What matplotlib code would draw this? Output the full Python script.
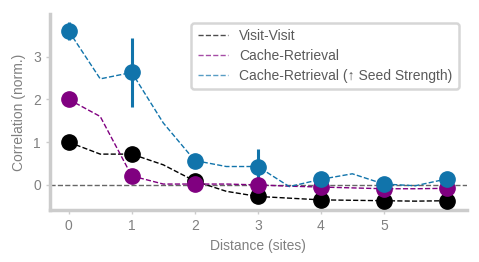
import matplotlib.pyplot as plt
import numpy as np

plt.rcParams['font.family'] = ['Liberation Sans', 'DejaVu Sans']

# line samples at half-site steps, markers at whole sites
x_line = [0, 0.5, 1, 1.5, 2, 2.5, 3, 3.5, 4, 4.5, 5, 5.5, 6]
x_pts = [0, 1, 2, 3, 4, 5, 6]

visit_line = [1.0, 0.72, 0.72, 0.47, 0.09, -0.15, -0.27, -0.31, -0.35, -0.36, -0.37, -0.38, -0.37]
visit_pts = [1.0, 0.72, 0.09, -0.27, -0.35, -0.37, -0.37]
visit_err = [0.05, 0.05, 0.04, 0.05, 0.04, 0.03, 0.03]

cache_line = [2.0, 1.6, 0.21, 0.02, 0.02, 0.02, 0.0, -0.03, -0.05, -0.07, -0.09, -0.09, -0.08]
cache_pts = [2.0, 0.21, 0.02, 0.0, -0.05, -0.09, -0.08]
cache_err = [0.15, 0.08, 0.05, 0.05, 0.04, 0.04, 0.04]

seed_line = [3.6, 2.48, 2.63, 1.45, 0.57, 0.43, 0.43, -0.04, 0.13, 0.26, 0.02, -0.02, 0.14]
seed_pts = [3.6, 2.63, 0.57, 0.43, 0.13, 0.02, 0.14]
seed_err = [0.2, 0.8, 0.15, 0.4, 0.08, 0.06, 0.12]

series = [
    ('Visit-Visit', visit_line, visit_pts, visit_err, 'black'),
    ('Cache-Retrieval', cache_line, cache_pts, cache_err, '#800080'),
    ('Cache-Retrieval (\u2191 Seed Strength)', seed_line, seed_pts, seed_err, '#1174ab'),
]

fig = plt.figure(figsize=(4.79, 2.62), dpi=100)
ax = fig.add_axes([0.104, 0.198, 0.871, 0.749])

ax.axhline(0, color='#666666', linestyle='--', linewidth=1.0, zorder=1)

for label, yl, yp, ye, col in series:
    ax.plot(x_line, yl, linestyle='--', color=col, linewidth=1.0, label=label, zorder=2)
    ax.errorbar(x_pts, yp, yerr=ye, fmt='o', color=col, markersize=11,
                elinewidth=2.2, capsize=0, zorder=3)

ax.set_xlim(-0.3, 6.32)
ax.set_ylim(-0.59, 4.0)
ax.set_xticks([0, 1, 2, 3, 4, 5])
ax.set_yticks([0, 1, 2, 3])

grey = '#808080'
ax.set_xlabel('Distance (sites)', fontsize=10, color=grey)
ax.set_ylabel('Correlation (norm.)', fontsize=10, color=grey, labelpad=5)
ax.tick_params(colors='#cccccc', labelcolor=grey, labelsize=10, length=3, width=1)

for side in ['top', 'right']:
    ax.spines[side].set_visible(False)
for side in ['left', 'bottom']:
    ax.spines[side].set_color('#cccccc')
    ax.spines[side].set_linewidth(2.5)

leg = ax.legend(loc='upper right', bbox_to_anchor=(0.997, 0.99), fontsize=10,
                frameon=True, fancybox=True, handlelength=2.2, borderpad=0.45,
                labelspacing=0.42, handletextpad=0.8)
leg.get_frame().set_edgecolor('#cccccc')
leg.get_frame().set_linewidth(1.8)
for h in leg.get_lines():
    h.set_alpha(0.7)
for t in leg.get_texts():
    t.set_color('#5a5a5a')

fig.savefig('out.png', dpi=100)
